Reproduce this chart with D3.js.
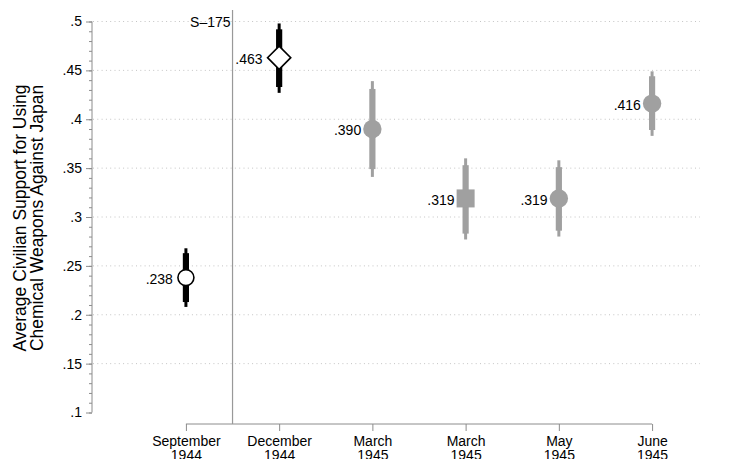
<!DOCTYPE html>
<html>
<head>
<meta charset="utf-8">
<script src="https://cdn.jsdelivr.net/npm/d3@7"></script>
<style>
  html, body { margin: 0; padding: 0; background: #fff; }
  svg { display: block; font-family: "Liberation Sans", Arial, Helvetica, sans-serif; }
</style>
</head>
<body>
<svg id="chart" width="731" height="459"></svg>
<script>
// ---- data ----
const monthLabels = ["September", "December", "March", "March", "May", "June"];
const yearLabels  = ["1944", "1944", "1945", "1945", "1945", "1945"];
const estimates   = [0.238, 0.463, 0.390, 0.319, 0.319, 0.416];
const ci95Low     = [0.208, 0.427, 0.341, 0.277, 0.280, 0.383];
const ci95High    = [0.268, 0.498, 0.439, 0.360, 0.358, 0.449];
const ci90Low     = [0.213, 0.433, 0.349, 0.283, 0.286, 0.389];
const ci90High    = [0.263, 0.492, 0.431, 0.353, 0.351, 0.444];
const valueLabels = [".238", ".463", ".390", ".319", ".319", ".416"];
const yTickValues = [0.1, 0.15, 0.2, 0.25, 0.3, 0.35, 0.4, 0.45, 0.5];
const refLinePosition = 1.5;
const refLineLabel = "S\u2013175";
const yTitleLines = ["Average Civilian Support for Using", "Chemical Weapons Against Japan"];

// ---- styles (kept apart from data) ----
const markerShapes = ["circle", "diamond", "circle", "square", "circle", "circle"];
const markerFilled = [false, false, true, true, true, true];
const BLACK = "#000";
const GREY = "#a0a0a0";
const AXIS = "#8c8c8c";
const FONT = 14;

const svg = d3.select("#chart");
const positions = estimates.map((d, i) => i + 1);

const x = d3.scaleLinear().domain([0.5, 6.5]).range([139.3, 698.7]);
const y = d3.scaleLinear().domain([0.1, 0.5]).range([412.5, 21.5]);

// gridlines
svg.append("g").selectAll("line")
  .data(yTickValues.filter(v => v > 0.1 + 1e-9))
  .join("line")
  .attr("x1", 93).attr("x2", 700)
  .attr("y1", d => y(d)).attr("y2", d => y(d))
  .attr("stroke", "#c4c4c4").attr("stroke-width", 1)
  .attr("stroke-dasharray", "1,3.3");

// y axis: minor ticks
const minorTicks = d3.range(10, 51).map(v => v / 100);
const yMinor = svg.append("g").attr("transform", "translate(92,0)")
  .call(d3.axisLeft(y).tickValues(minorTicks).tickSize(3).tickFormat(""));
yMinor.select(".domain").remove();
yMinor.selectAll("line").attr("stroke", AXIS);

// y axis: major ticks
const fmt = v => d3.format(".2~f")(v).replace(/^0/, "");
const yAxis = svg.append("g").attr("transform", "translate(92,0)")
  .call(d3.axisLeft(y).tickValues(yTickValues).tickSize(6).tickPadding(4).tickFormat(fmt));
yAxis.attr("font-family", null);
yAxis.select(".domain").attr("stroke", AXIS).attr("d", `M0,${y(0.1)}V${y(0.5)}`);
yAxis.selectAll("line").attr("stroke", AXIS);
yAxis.selectAll("text").attr("font-size", FONT).attr("fill", "#000");

// y title
const yTitle = svg.append("g");
yTitleLines.forEach((t, i) => {
  yTitle.append("text")
    .attr("transform", `translate(${25.5 + i * 17},218) rotate(-90)`)
    .attr("text-anchor", "middle")
    .attr("font-size", 17.5)
    .attr("fill", "#000")
    .text(t);
});

// x axis
const xAxis = svg.append("g").attr("transform", "translate(0,424)")
  .call(d3.axisBottom(x).tickValues(positions).tickSize(7).tickSizeOuter(0).tickFormat(""));
xAxis.attr("font-family", null);
xAxis.select(".domain").attr("stroke", AXIS).attr("d", `M${x(1)},0H${x(6)}`);
xAxis.selectAll("line").attr("stroke", AXIS);
xAxis.selectAll(".tick").each(function(d, i) {
  const g = d3.select(this);
  g.append("text").attr("y", 21.5).attr("text-anchor", "middle")
    .attr("font-size", FONT).attr("fill", "#000").text(monthLabels[i]);
  g.append("text").attr("y", 36).attr("text-anchor", "middle")
    .attr("font-size", FONT).attr("fill", "#000").text(yearLabels[i]);
});

// reference line
svg.append("line")
  .attr("x1", x(refLinePosition)).attr("x2", x(refLinePosition))
  .attr("y1", 10).attr("y2", 424)
  .attr("stroke", "#999").attr("stroke-width", 1.2);
svg.append("text")
  .attr("x", x(refLinePosition) - 2).attr("y", 27.3)
  .attr("text-anchor", "end").attr("font-size", FONT).attr("fill", "#000")
  .text(refLineLabel);

// confidence intervals
const pts = svg.append("g");
estimates.forEach((est, i) => {
  const col = markerFilled[i] ? GREY : BLACK;
  const cx = x(positions[i]);
  pts.append("line").attr("x1", cx).attr("x2", cx)
    .attr("y1", y(ci95Low[i])).attr("y2", y(ci95High[i]))
    .attr("stroke", col).attr("stroke-width", 3);
  pts.append("line").attr("x1", cx).attr("x2", cx)
    .attr("y1", y(ci90Low[i])).attr("y2", y(ci90High[i]))
    .attr("stroke", col).attr("stroke-width", 6.2);
});

// markers
estimates.forEach((est, i) => {
  const cx = x(positions[i]), cy = y(est);
  const shape = markerShapes[i];
  const filled = markerFilled[i];
  let m, half;
  if (shape === "circle") {
    half = filled ? 9.2 : 8.0;
    m = pts.append("circle").attr("cx", cx).attr("cy", cy).attr("r", half);
  } else if (shape === "diamond") {
    half = 11.6;
    m = pts.append("path").attr("d", `M${cx},${cy - half}L${cx + half},${cy}L${cx},${cy + half}L${cx - half},${cy}Z`);
  } else {
    half = 9;
    m = pts.append("rect").attr("x", cx - half).attr("y", cy - half).attr("width", 2 * half).attr("height", 2 * half);
  }
  if (filled) m.attr("fill", GREY).attr("stroke", "none");
  else m.attr("fill", "#fff").attr("stroke", BLACK).attr("stroke-width", 1.6);

  const gap = filled ? 2 : 5;
  pts.append("text")
    .attr("x", cx - half - gap).attr("y", cy + 6.3)
    .attr("text-anchor", "end").attr("font-size", FONT).attr("fill", "#000")
    .text(valueLabels[i]);
});
</script>
</body>
</html>
